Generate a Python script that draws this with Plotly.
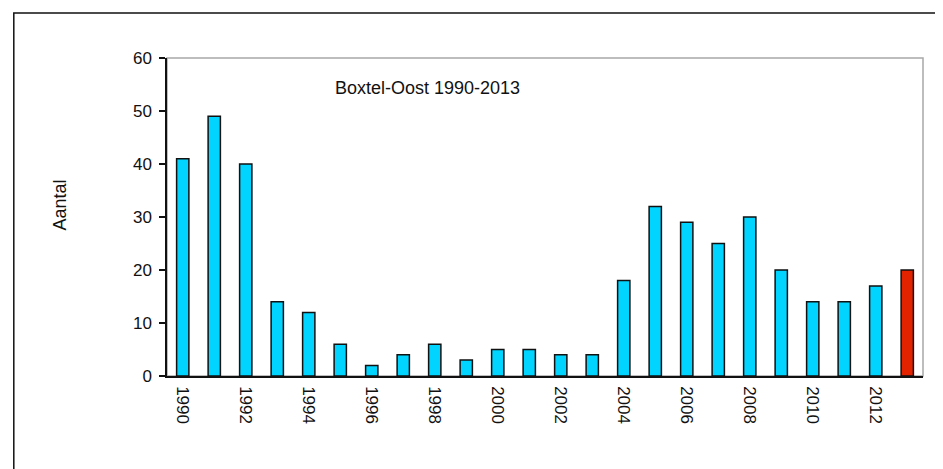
import plotly.graph_objects as go

years = list(range(1990, 2014))
counts = [41, 49, 40, 14, 12, 6, 2, 4, 6, 3, 5, 5, 4, 4, 18, 32, 29, 25, 30, 20, 14, 14, 17, 20]
bar_colors = ["#00d4ff"] * 23 + ["#e32200"]
tick_years = list(range(1990, 2013, 2))
title_text = "Boxtel-Oost 1990-2013"
y_title = "Aantal"

W, H = 943, 469
OFF = 8  # page body margin shifts the figure by this much
# target plot area in window pixels
PX0, PX1, PY0, PY1 = 166.7, 922.7, 57.5, 376
L = PX0 - OFF
R = W - (PX1 - OFF)
T = PY0 - OFF
B = H - (PY1 - OFF)
pw = PX1 - PX0
ph = PY1 - PY0

def px(xp):
    return (xp - PX0) / pw

def py(yp):
    return (PY1 - yp) / ph

fam = "Liberation Sans, Arial, sans-serif"
font = dict(family=fam, size=17, color="#111111")

fig = go.Figure(
    go.Bar(
        x=years,
        y=counts,
        marker=dict(color=bar_colors, line=dict(color="#111111", width=1.5)),
        width=0.39,
    )
)

fig.update_layout(
    width=W,
    height=H,
    margin=dict(l=L, r=R, t=T, b=B),
    paper_bgcolor="white",
    plot_bgcolor="white",
    showlegend=False,
    font=font,
    xaxis=dict(
        range=[1989.5, 2013.5],
        tickmode="array",
        tickvals=tick_years,
        ticktext=[str(y) for y in tick_years],
        tickangle=90,
        showgrid=False,
        zeroline=False,
        showline=True,
        linecolor="#111111",
        linewidth=1.5,
        ticks="",
        ticklabelstandoff=5,
        tickfont=font,
    ),
    yaxis=dict(
        range=[0, 60],
        dtick=10,
        showgrid=False,
        zeroline=False,
        showline=True,
        linecolor="#111111",
        linewidth=1.5,
        ticks="outside",
        ticklen=6,
        tickwidth=1.5,
        tickcolor="#111111",
        ticklabelstandoff=4,
        tickfont=font,
    ),
    shapes=[
        dict(type="rect", xref="paper", yref="paper", x0=0, x1=1, y0=0, y1=1,
             line=dict(color="#a8a8a8", width=1.5), layer="below"),
        dict(type="rect", xref="paper", yref="paper",
             x0=px(13.5), x1=px(960), y0=py(490), y1=py(12.5),
             line=dict(color="#111111", width=1.5), layer="below"),
    ],
    annotations=[
        dict(text=title_text, xref="paper", yref="paper", x=px(427.5), y=py(88),
             showarrow=False, xanchor="center", yanchor="middle",
             font=dict(family=fam, size=18, color="#111111")),
        dict(text=y_title, xref="paper", yref="paper", x=px(60), y=py(205),
             showarrow=False, xanchor="center", yanchor="middle", textangle=-90,
             font=dict(family=fam, size=18, color="#111111")),
    ],
)

fig.write_html("out.html")
